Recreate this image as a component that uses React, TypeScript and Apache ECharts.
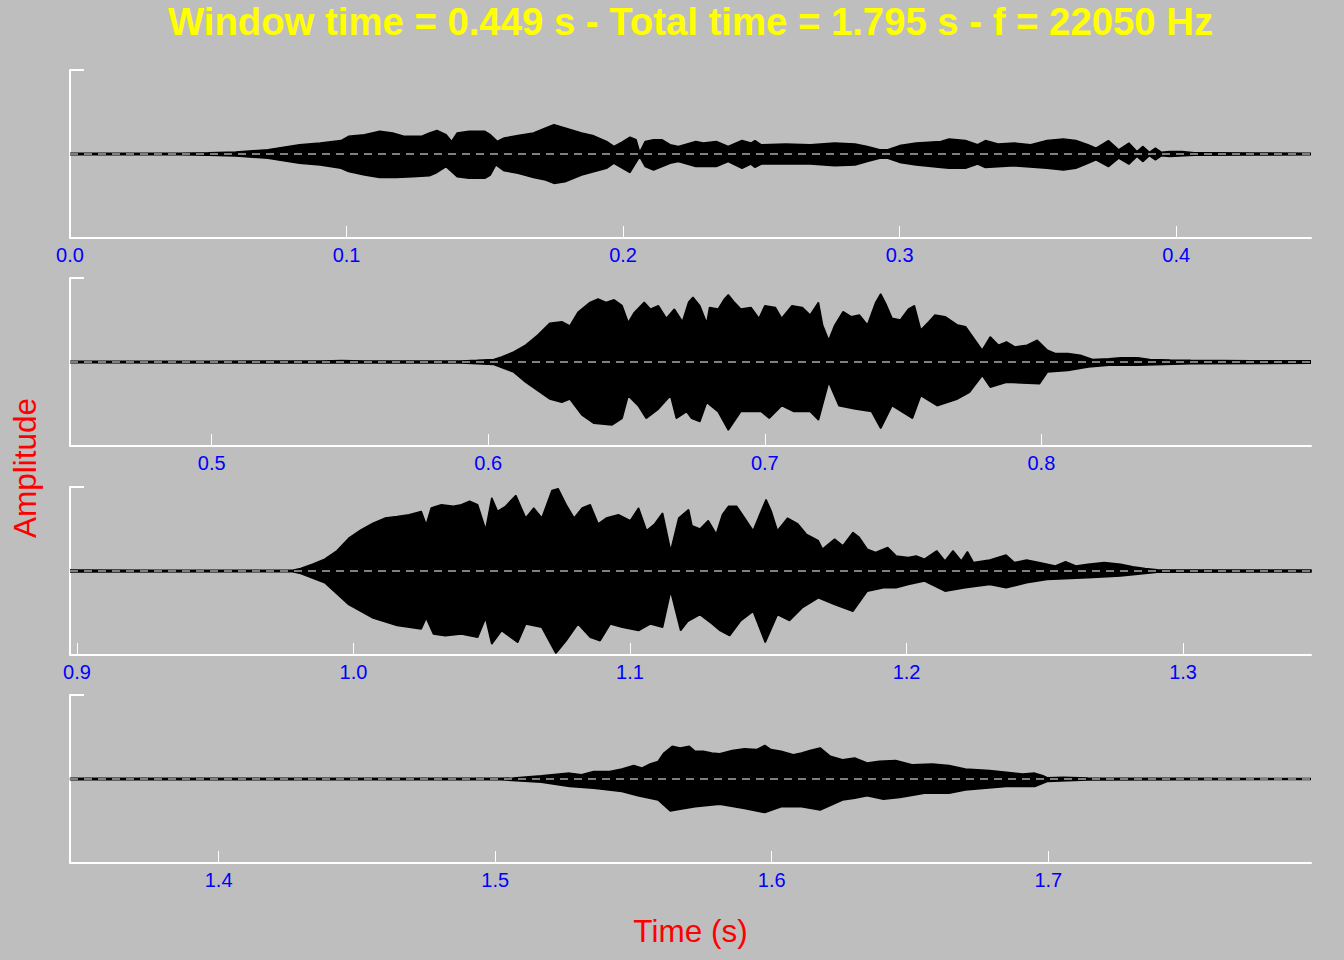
import React, { useEffect, useRef } from "react";
import * as echarts from "echarts";

// ---- data ----
const windowTime = 0.44875; // 1.795 s / 4 windows
const titleText = "Window time = 0.449 s - Total time = 1.795 s - f = 22050 Hz";
const xName = "Time (s)";
const yName = "Amplitude";

const ticks1 = [0.0, 0.1, 0.2, 0.3, 0.4];
const ticks2 = [0.5, 0.6, 0.7, 0.8];
const ticks3 = [0.9, 1.0, 1.1, 1.2, 1.3];
const ticks4 = [1.4, 1.5, 1.6, 1.7];

// envelope of the waveform: [time (s), amplitude]
const upper1 = [[0, 0.008], [0.03, 0.008], [0.04, 0.01], [0.05, 0.015], [0.06, 0.025], [0.0716, 0.05], [0.075, 0.07], [0.083, 0.11], [0.0905, 0.13], [0.098, 0.16], [0.1007, 0.21], [0.1065, 0.23], [0.112, 0.27], [0.1167, 0.25], [0.121, 0.21], [0.127, 0.21], [0.13, 0.25], [0.1327, 0.28], [0.136, 0.23], [0.138, 0.15], [0.14, 0.25], [0.1443, 0.27], [0.15, 0.27], [0.152, 0.23], [0.1545, 0.15], [0.157, 0.19], [0.162, 0.22], [0.1676, 0.25], [0.172, 0.31], [0.175, 0.35], [0.179, 0.31], [0.185, 0.25], [0.189, 0.22], [0.194, 0.15], [0.1967, 0.09], [0.1996, 0.14], [0.2025, 0.2], [0.2047, 0.17], [0.206, 0.02], [0.208, 0.15], [0.211, 0.17], [0.214, 0.17], [0.217, 0.11], [0.22, 0.09], [0.2263, 0.15], [0.229, 0.13], [0.2337, 0.15], [0.238, 0.09], [0.243, 0.16], [0.2462, 0.13], [0.2477, 0.16], [0.25, 0.11], [0.2588, 0.12], [0.2677, 0.11], [0.2765, 0.13], [0.2839, 0.12], [0.2883, 0.09], [0.2928, 0.05], [0.2957, 0.05], [0.3, 0.1], [0.306, 0.13], [0.3149, 0.15], [0.3179, 0.18], [0.3238, 0.16], [0.3282, 0.11], [0.331, 0.16], [0.3356, 0.12], [0.3415, 0.13], [0.3474, 0.11], [0.3533, 0.16], [0.3592, 0.18], [0.3637, 0.16], [0.3681, 0.11], [0.371, 0.07], [0.3755, 0.16], [0.3792, 0.05], [0.3829, 0.13], [0.3858, 0.03], [0.388, 0.09], [0.3903, 0.02], [0.3925, 0.07], [0.3947, 0.02], [0.3976, 0.03], [0.4021, 0.03], [0.4065, 0.016], [0.4124, 0.016], [0.4272, 0.012], [0.44875, 0.01]];
const lower1 = [[0, -0.008], [0.03, -0.008], [0.04, -0.01], [0.05, -0.015], [0.06, -0.025], [0.0716, -0.05], [0.075, -0.07], [0.083, -0.11], [0.0905, -0.13], [0.098, -0.17], [0.1007, -0.21], [0.1065, -0.25], [0.112, -0.28], [0.118, -0.28], [0.124, -0.27], [0.13, -0.26], [0.1327, -0.22], [0.136, -0.15], [0.14, -0.27], [0.1443, -0.29], [0.15, -0.29], [0.152, -0.25], [0.154, -0.13], [0.157, -0.2], [0.162, -0.23], [0.1676, -0.28], [0.172, -0.31], [0.175, -0.35], [0.179, -0.33], [0.185, -0.25], [0.194, -0.17], [0.1967, -0.11], [0.2025, -0.22], [0.206, -0.03], [0.208, -0.15], [0.211, -0.19], [0.217, -0.11], [0.22, -0.09], [0.2263, -0.15], [0.2337, -0.15], [0.238, -0.09], [0.243, -0.17], [0.2462, -0.12], [0.2477, -0.16], [0.25, -0.12], [0.2677, -0.12], [0.2765, -0.14], [0.2839, -0.13], [0.2883, -0.09], [0.2928, -0.05], [0.2957, -0.05], [0.3, -0.1], [0.306, -0.13], [0.3149, -0.16], [0.3179, -0.17], [0.3238, -0.17], [0.3282, -0.12], [0.331, -0.16], [0.3415, -0.14], [0.3533, -0.17], [0.3592, -0.19], [0.3637, -0.17], [0.3681, -0.11], [0.371, -0.07], [0.3755, -0.15], [0.3792, -0.05], [0.3829, -0.12], [0.3858, -0.03], [0.388, -0.09], [0.3903, -0.02], [0.3925, -0.07], [0.3947, -0.02], [0.3976, -0.03], [0.4065, -0.016], [0.4272, -0.012], [0.44875, -0.01]];

const upper2 = [[0.44875, 0.01], [0.5, 0.01], [0.54, 0.012], [0.547, 0.018], [0.555, 0.012], [0.59, 0.012], [0.596, 0.02], [0.602, 0.03], [0.6048, 0.06], [0.6092, 0.12], [0.6135, 0.2], [0.6179, 0.32], [0.6222, 0.46], [0.6266, 0.48], [0.6295, 0.43], [0.6324, 0.59], [0.6368, 0.71], [0.6397, 0.75], [0.6426, 0.71], [0.6455, 0.74], [0.6484, 0.67], [0.6506, 0.47], [0.6528, 0.59], [0.6564, 0.71], [0.6586, 0.63], [0.6615, 0.67], [0.6644, 0.52], [0.6673, 0.63], [0.6702, 0.48], [0.6724, 0.71], [0.674, 0.77], [0.6765, 0.67], [0.679, 0.46], [0.68, 0.65], [0.6831, 0.63], [0.6854, 0.75], [0.6868, 0.8], [0.689, 0.71], [0.6913, 0.63], [0.695, 0.65], [0.6979, 0.52], [0.7, 0.67], [0.7038, 0.65], [0.7061, 0.52], [0.7098, 0.67], [0.7135, 0.65], [0.7164, 0.56], [0.7194, 0.71], [0.7209, 0.44], [0.7231, 0.26], [0.7253, 0.44], [0.7283, 0.6], [0.7312, 0.54], [0.7342, 0.56], [0.7371, 0.44], [0.7401, 0.71], [0.7419, 0.81], [0.7438, 0.69], [0.746, 0.52], [0.749, 0.5], [0.7519, 0.63], [0.7541, 0.67], [0.7564, 0.38], [0.7593, 0.48], [0.7615, 0.56], [0.7652, 0.54], [0.7697, 0.44], [0.7726, 0.42], [0.7756, 0.28], [0.7786, 0.14], [0.7815, 0.3], [0.7845, 0.2], [0.7874, 0.24], [0.7904, 0.18], [0.7948, 0.2], [0.7985, 0.26], [0.8022, 0.14], [0.8052, 0.1], [0.8096, 0.1], [0.8141, 0.08], [0.8185, 0.03], [0.8244, 0.04], [0.8288, 0.05], [0.8348, 0.05], [0.8392, 0.03], [0.8466, 0.024], [0.854, 0.02], [0.8762, 0.016], [0.8975, 0.016]];
const lower2 = [[0.44875, -0.01], [0.59, -0.012], [0.602, -0.03], [0.6092, -0.12], [0.6135, -0.24], [0.6179, -0.34], [0.6222, -0.44], [0.6266, -0.48], [0.6295, -0.44], [0.6338, -0.63], [0.6382, -0.73], [0.6448, -0.75], [0.6484, -0.67], [0.6506, -0.4], [0.6542, -0.52], [0.6571, -0.67], [0.6615, -0.56], [0.6659, -0.4], [0.668, -0.67], [0.6717, -0.59], [0.6735, -0.67], [0.6765, -0.71], [0.679, -0.48], [0.6831, -0.59], [0.6868, -0.81], [0.6913, -0.59], [0.6987, -0.59], [0.7016, -0.67], [0.7061, -0.52], [0.7105, -0.59], [0.7164, -0.59], [0.7194, -0.69], [0.7231, -0.24], [0.7268, -0.52], [0.7327, -0.56], [0.7386, -0.59], [0.7419, -0.79], [0.746, -0.52], [0.7534, -0.67], [0.7564, -0.4], [0.7623, -0.52], [0.7697, -0.44], [0.774, -0.36], [0.7786, -0.16], [0.7815, -0.3], [0.7874, -0.24], [0.7993, -0.26], [0.8022, -0.12], [0.8096, -0.1], [0.817, -0.06], [0.8244, -0.04], [0.8348, -0.04], [0.854, -0.02], [0.8975, -0.016]];

const upper3 = [[0.8975, 0.012], [0.93, 0.01], [0.978, 0.01], [0.9809, 0.03], [0.9852, 0.08], [0.9896, 0.14], [0.994, 0.24], [0.9983, 0.39], [1.0027, 0.49], [1.0071, 0.57], [1.0114, 0.63], [1.0158, 0.65], [1.0201, 0.67], [1.0245, 0.71], [1.0263, 0.55], [1.0281, 0.75], [1.0318, 0.79], [1.0361, 0.77], [1.039, 0.79], [1.042, 0.83], [1.0449, 0.79], [1.0478, 0.49], [1.05, 0.87], [1.0521, 0.71], [1.055, 0.77], [1.0587, 0.9], [1.0623, 0.63], [1.0652, 0.75], [1.0681, 0.63], [1.0718, 0.96], [1.074, 0.98], [1.0769, 0.79], [1.0798, 0.63], [1.0827, 0.75], [1.0856, 0.79], [1.0885, 0.56], [1.0914, 0.63], [1.0958, 0.67], [1.1001, 0.6], [1.1031, 0.75], [1.106, 0.48], [1.1089, 0.56], [1.1118, 0.69], [1.1147, 0.24], [1.1176, 0.63], [1.1212, 0.73], [1.1224, 0.54], [1.1253, 0.5], [1.1283, 0.6], [1.1312, 0.44], [1.1334, 0.67], [1.1356, 0.77], [1.1386, 0.77], [1.1415, 0.63], [1.1445, 0.48], [1.1474, 0.71], [1.1492, 0.85], [1.1511, 0.71], [1.1533, 0.48], [1.157, 0.63], [1.1607, 0.56], [1.1637, 0.44], [1.1681, 0.36], [1.1696, 0.26], [1.174, 0.38], [1.177, 0.3], [1.1806, 0.46], [1.1829, 0.4], [1.1858, 0.26], [1.1888, 0.22], [1.1932, 0.28], [1.1962, 0.18], [1.2006, 0.16], [1.2035, 0.18], [1.2065, 0.14], [1.2109, 0.24], [1.2139, 0.12], [1.2168, 0.24], [1.2198, 0.12], [1.222, 0.23], [1.2242, 0.1], [1.2301, 0.13], [1.236, 0.19], [1.239, 0.1], [1.2434, 0.13], [1.2479, 0.1], [1.2538, 0.06], [1.2575, 0.11], [1.2612, 0.06], [1.2656, 0.08], [1.2715, 0.1], [1.2774, 0.08], [1.2818, 0.05], [1.2863, 0.03], [1.2907, 0.016], [1.3465, 0.012]];
const lower3 = [[0.8975, -0.012], [0.978, -0.01], [0.9809, -0.03], [0.9896, -0.14], [0.9983, -0.4], [1.0071, -0.56], [1.0158, -0.65], [1.0245, -0.69], [1.0263, -0.56], [1.0289, -0.75], [1.0332, -0.77], [1.039, -0.75], [1.0449, -0.79], [1.0478, -0.56], [1.05, -0.87], [1.0536, -0.71], [1.0594, -0.85], [1.0623, -0.63], [1.0681, -0.67], [1.0732, -0.98], [1.0769, -0.83], [1.0812, -0.63], [1.0856, -0.79], [1.0892, -0.83], [1.0929, -0.63], [1.0972, -0.67], [1.1031, -0.71], [1.1074, -0.63], [1.1118, -0.67], [1.1147, -0.24], [1.1183, -0.71], [1.1209, -0.6], [1.1253, -0.52], [1.1297, -0.63], [1.1326, -0.71], [1.136, -0.77], [1.1401, -0.59], [1.1445, -0.48], [1.1489, -0.85], [1.1533, -0.52], [1.1577, -0.59], [1.1622, -0.44], [1.1681, -0.32], [1.174, -0.4], [1.1806, -0.48], [1.1858, -0.24], [1.1917, -0.2], [1.1962, -0.2], [1.2006, -0.16], [1.2065, -0.12], [1.2139, -0.24], [1.2212, -0.2], [1.2301, -0.16], [1.236, -0.2], [1.2434, -0.14], [1.2508, -0.1], [1.2656, -0.08], [1.2774, -0.06], [1.2863, -0.03], [1.2907, -0.016], [1.3465, -0.012]];

const upper4 = [[1.3462, 0.01], [1.45, 0.008], [1.502, 0.008], [1.5065, 0.012], [1.5167, 0.04], [1.5269, 0.07], [1.5312, 0.05], [1.5356, 0.09], [1.5414, 0.09], [1.5458, 0.12], [1.5501, 0.16], [1.553, 0.13], [1.556, 0.18], [1.5589, 0.21], [1.561, 0.31], [1.564, 0.39], [1.5669, 0.37], [1.5702, 0.39], [1.5723, 0.33], [1.5753, 0.33], [1.5783, 0.31], [1.5812, 0.3], [1.5857, 0.34], [1.5901, 0.36], [1.5945, 0.35], [1.5975, 0.4], [1.5997, 0.35], [1.6034, 0.33], [1.6078, 0.29], [1.6108, 0.31], [1.6138, 0.34], [1.6175, 0.37], [1.6212, 0.27], [1.6256, 0.23], [1.63, 0.25], [1.6345, 0.19], [1.6389, 0.21], [1.6448, 0.22], [1.6507, 0.17], [1.6581, 0.18], [1.6641, 0.16], [1.67, 0.12], [1.6788, 0.1], [1.6848, 0.08], [1.6907, 0.06], [1.6951, 0.07], [1.6981, 0.04], [1.6996, 0.016], [1.7055, 0.02], [1.7143, 0.012], [1.795, 0.006]];
const lower4 = [[1.3462, -0.01], [1.502, -0.008], [1.5167, -0.04], [1.5269, -0.09], [1.5356, -0.11], [1.5458, -0.15], [1.5516, -0.2], [1.5589, -0.25], [1.5633, -0.38], [1.5669, -0.36], [1.5723, -0.33], [1.5812, -0.3], [1.5901, -0.35], [1.5975, -0.4], [1.6034, -0.33], [1.6108, -0.33], [1.6175, -0.37], [1.6256, -0.25], [1.63, -0.23], [1.6345, -0.2], [1.6404, -0.24], [1.6463, -0.22], [1.6552, -0.17], [1.6641, -0.17], [1.67, -0.13], [1.6848, -0.09], [1.6951, -0.09], [1.6996, -0.03], [1.7143, -0.012], [1.795, -0.006]];

const panelTicks = [ticks1, ticks2, ticks3, ticks4];
const panelUpper = [upper1, upper2, upper3, upper4];
const panelLower = [lower1, lower2, lower3, lower4];

// ---- layout ----
const FONT = "'Liberation Sans', Arial, Helvetica, sans-serif";
const gridTops = [70, 278, 487, 695];
const gridHeight = 168;
const gridLeft = 70;
const gridWidth = 1241;

export default function App() {
  const ref = useRef<HTMLDivElement>(null);
  useEffect(() => {
    if (!ref.current) return;
    const chart = echarts.init(ref.current, null, { renderer: "svg" });
    const grids = gridTops.map((top) => ({ left: gridLeft, top, width: gridWidth, height: gridHeight }));
    const xAxes = panelTicks.map((tk, i) => ({
      type: "value",
      gridIndex: i,
      min: i * windowTime,
      max: (i + 1) * windowTime,
      axisLine: { show: true, onZero: false, lineStyle: { color: "#ffffff", width: 2 } },
      axisTick: { show: true, inside: true, length: 12, customValues: tk, lineStyle: { color: "#ffffff", width: 1 } },
      axisLabel: {
        show: true,
        customValues: tk,
        color: "#0000ff",
        fontSize: 20,
        fontFamily: FONT,
        margin: 7,
        formatter: (v: number) => v.toFixed(1),
      },
      splitLine: { show: false },
    }));
    const yAxes = gridTops.map((_, i) => ({
      type: "value",
      gridIndex: i,
      min: -1,
      max: 1,
      interval: 2,
      axisLine: { show: true, onZero: false, lineStyle: { color: "#ffffff", width: 2 } },
      axisTick: { show: true, inside: true, length: 14, lineStyle: { color: "#ffffff", width: 2 } },
      axisLabel: { show: false },
      splitLine: { show: false },
    }));
    const series: any[] = [];
    for (let i = 0; i < 4; i++) {
      series.push({
        type: "line",
        xAxisIndex: i,
        yAxisIndex: i,
        data: panelUpper[i],
        showSymbol: false,
        symbol: "none",
        lineStyle: { color: "#000000", width: 1.5 },
        areaStyle: { color: "#000000", opacity: 1 },
        z: 2,
        silent: true,
      });
      series.push({
        type: "line",
        xAxisIndex: i,
        yAxisIndex: i,
        data: panelLower[i],
        showSymbol: false,
        symbol: "none",
        lineStyle: { color: "#000000", width: 1.5 },
        areaStyle: { color: "#000000", opacity: 1 },
        z: 2,
        silent: true,
        markLine: {
          silent: true,
          symbol: ["none", "none"],
          label: { show: false },
          lineStyle: { color: "#7f7f7f", type: [8, 6], width: 2 },
          data: [{ yAxis: 0 }],
          z: 5,
        },
      });
    }
    chart.setOption({
      animation: false,
      backgroundColor: "#bebebe",
      grid: grids,
      xAxis: xAxes,
      yAxis: yAxes,
      series,
      graphic: [
        {
          type: "text",
          x: 690.5,
          y: 21,
          style: {
            text: titleText,
            fill: "#ffff00",
            font: `bold 38.3px ${FONT}`,
            textAlign: "center",
            textVerticalAlign: "middle",
          },
        },
        {
          type: "text",
          x: 25,
          y: 468,
          rotation: Math.PI / 2,
          style: {
            text: yName,
            fill: "#ff0000",
            font: `31.5px ${FONT}`,
            textAlign: "center",
            textVerticalAlign: "middle",
          },
        },
        {
          type: "text",
          x: 690.5,
          y: 931,
          style: {
            text: xName,
            fill: "#ff0000",
            font: `31.5px ${FONT}`,
            textAlign: "center",
            textVerticalAlign: "middle",
          },
        },
      ],
    });
    return () => chart.dispose();
  }, []);
  return (
    <div
      ref={ref}
      style={{ position: "fixed", left: 0, top: 0, width: 1344, height: 960 }}
    />
  );
}
